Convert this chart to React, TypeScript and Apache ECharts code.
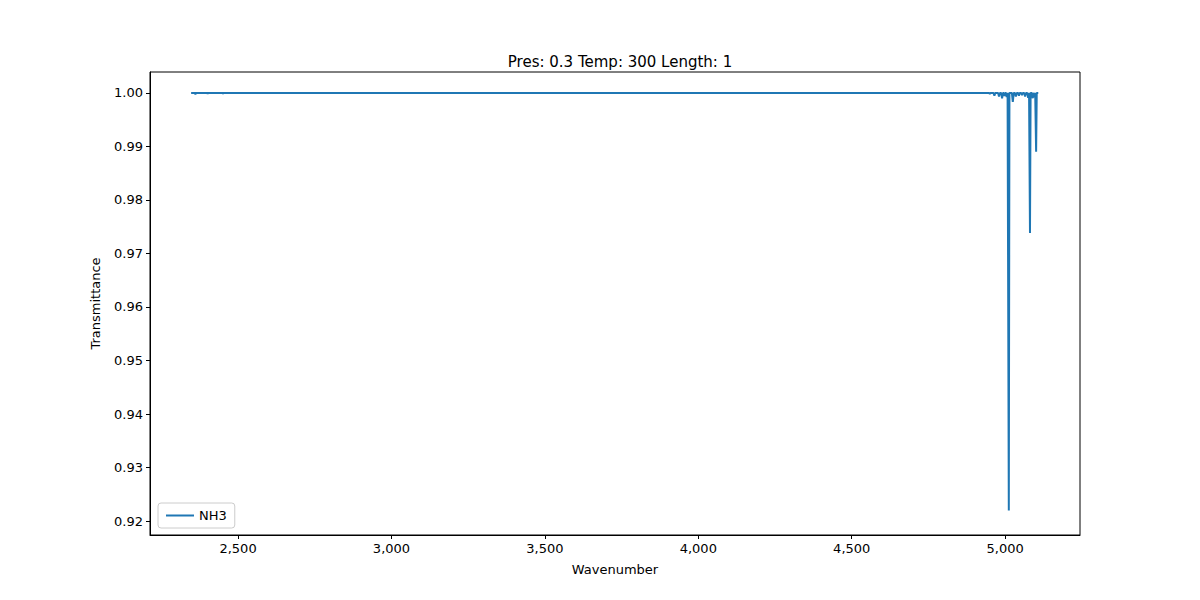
import { useEffect, useRef } from "react"
import * as echarts from "echarts"

// wavenumbers and transmittance
const wavenumbers = [2347, 2360, 2361, 2362, 2400, 2401, 2402, 2450, 2451, 2452, 4940, 4948, 4950, 4952, 4962, 4965, 4968, 4977, 4980, 4983, 4987, 4990, 4993, 4996, 4998, 5000, 5003, 5005, 5008, 5010, 5012, 5014, 5022, 5025, 5028, 5032, 5035, 5038, 5042, 5045, 5048, 5052, 5055, 5058, 5062, 5065, 5068, 5072, 5075, 5078, 5079, 5081, 5083, 5087, 5090, 5092, 5094, 5096, 5098, 5099, 5101, 5103, 5108]
const transmittance = [1.0, 1.0, 0.9997, 1.0, 1.0, 0.9998, 1.0, 1.0, 0.9998, 1.0, 1.0, 1.0, 0.9998, 1.0, 1.0, 0.9995, 1.0, 1.0, 0.9993, 1.0, 1.0, 0.999, 1.0, 1.0, 0.9994, 1.0, 1.0, 0.9992, 1.0, 1.0, 0.922, 1.0, 1.0, 0.9983, 1.0, 1.0, 0.9993, 1.0, 1.0, 0.9995, 1.0, 1.0, 0.9996, 1.0, 1.0, 0.9993, 1.0, 1.0, 0.9991, 1.0, 1.0, 0.9738, 1.0, 1.0, 0.999, 1.0, 1.0, 0.9992, 1.0, 1.0, 0.989, 1.0, 1.0]
const xTicks = [2500, 3000, 3500, 4000, 4500, 5000]
const yTicks = [0.92, 0.93, 0.94, 0.95, 0.96, 0.97, 0.98, 0.99, 1.0]

export default function App() {
  const chartRef = useRef<HTMLDivElement>(null)

  useEffect(() => {
    if (!chartRef.current) return
    const chart = echarts.init(chartRef.current, null, { renderer: "svg" })
    const font = "DejaVu Sans"
    const axisCommon = {
      axisLine: { show: true, onZero: false, lineStyle: { color: "#000", width: 1 } },
      axisTick: { show: true, inside: false, length: 4, lineStyle: { color: "#000" } },
      splitLine: { show: false },
      nameLocation: "middle" as const,
      nameTextStyle: { color: "#000", fontSize: 13, fontFamily: font },
    }
    chart.setOption({
      animation: false,
      textStyle: { fontFamily: font },
      title: {
        text: "Pres: 0.3 Temp: 300 Length: 1",
        left: 615,
        top: 49,
        textAlign: "center",
        textStyle: { fontSize: 15, fontWeight: "normal", color: "#000", fontFamily: font },
      },
      legend: {
        left: 158,
        bottom: 72,
        orient: "vertical",
        itemWidth: 28,
        itemHeight: 2,
        padding: [6, 8],
        borderColor: "#ccc",
        borderWidth: 1,
        borderRadius: 3,
        textStyle: { fontSize: 13, color: "#000", fontFamily: font },
        data: [{ name: "NH3", icon: "rect" }],
      },
      grid: { left: 150, right: 120, top: 72, bottom: 65, show: true, borderColor: "#000", borderWidth: 1 },
      xAxis: {
        ...axisCommon,
        type: "value",
        min: 2213,
        max: 5244,
        name: "Wavenumber",
        nameGap: 28,
        axisTick: { ...axisCommon.axisTick, customValues: xTicks },
        axisLabel: { customValues: xTicks, color: "#000", fontSize: 13, fontFamily: font, margin: 7 },
      },
      yAxis: {
        ...axisCommon,
        type: "value",
        min: 0.9174,
        max: 1.0039,
        name: "Transmittance",
        nameGap: 48,
        axisTick: { ...axisCommon.axisTick, customValues: yTicks },
        axisLabel: {
          customValues: yTicks,
          color: "#000",
          fontSize: 13,
          fontFamily: font,
          margin: 7,
          formatter: (v: number) => v.toFixed(2),
        },
      },
      series: [
        {
          name: "NH3",
          type: "line",
          showSymbol: false,
          symbol: "none",
          lineStyle: { color: "#1f77b4", width: 2 },
          itemStyle: { color: "#1f77b4" },
          data: wavenumbers.map((w, i) => [w, transmittance[i]]),
        },
      ],
    })
    return () => chart.dispose()
  }, [])

  return <div ref={chartRef} style={{ width: 1200, height: 600, margin: -8 }} />
}
